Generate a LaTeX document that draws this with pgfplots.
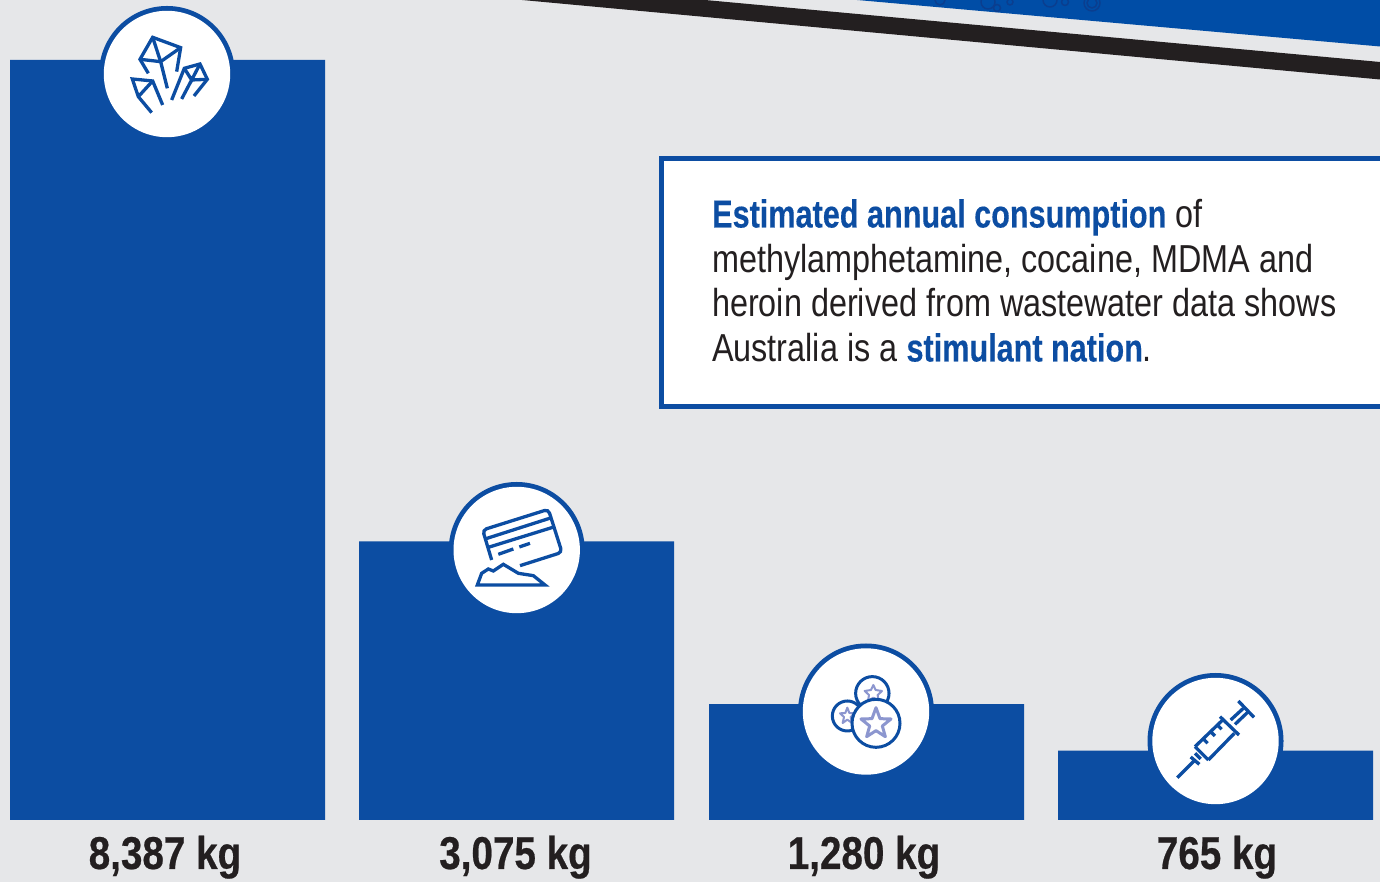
\documentclass[border=0pt]{standalone}
\usepackage{pgfplots}
\pgfplotsset{compat=1.18}
\usepackage{fontspec}
\setmainfont[FakeStretch=0.83,BoldFeatures={FakeStretch=0.785,FakeBold=0.25}]{Liberation Sans}
\newfontfamily\labfont[FakeStretch=0.84,BoldFeatures={FakeStretch=0.84,FakeBold=0.5}]{Liberation Sans}
\definecolor{bgc}{HTML}{E6E7E9}
\definecolor{barc}{HTML}{0C4DA2}
\definecolor{topb}{HTML}{004DA6}
\definecolor{ghost}{HTML}{0A3E8F}
\definecolor{ink}{HTML}{231F20}
\definecolor{starc}{HTML}{8C96CF}
\pgfplotstableread{
x kg
167.5 8387
516.5 3075
866.5 1280
1215.5 765
}\consumption
\newcommand{\tl}[3]{\node[anchor=base west,inner sep=0pt,font=\fontsize{39}{44}\selectfont,text=ink] at (#1,#2) {#3};}
\newcommand{\blue}[1]{\textcolor{barc}{\bfseries #1}}
\newcommand{\bubble}[2]{\fill[barc] (#1,#2) circle (68); \fill[white] (#1,#2) circle (63.2);}
\begin{document}
\begin{tikzpicture}[x=1pt,y=1pt]
\useasboundingbox (0,0) rectangle (1380,882);
\begin{scope}[x=1pt,y=-1pt,yshift=882pt]
\fill[bgc] (0,0) rectangle (1380,882);
\begin{scope}
\clip (0,0) rectangle (1380,882);
\fill[topb] (857,0) -- (1380,0) -- (1380,46.5) -- cycle;
\begin{scope}
\clip (857,0) -- (1380,0) -- (1380,46.5) -- cycle;
\draw[ghost,line width=1.5pt] (940,0) circle (5) (988,2) circle (7) (997,8) circle (3.5) (1010,2) circle (3) (1050,0) circle (7) (1065,2) circle (3.5) (1092,3) circle (8) (1092,3) circle (5);
\end{scope}
\fill[ink] (522,0) -- (705,0) -- (1380,62) -- (1380,79.5) -- cycle;
\filldraw[draw=barc,fill=white,line width=5.5pt] (661.5,158.5) rectangle (1390,406.5);
\end{scope}
\end{scope}
\begin{axis}[
  at={(0pt,62pt)},anchor=south west,
  width=1380pt,height=820pt,scale only axis,
  xmin=0,xmax=1380,ymin=0,ymax=9049,
  ybar,bar width=315pt,bar shift=0pt,
  axis line style={draw=none},tick style={draw=none},major tick length=0pt,
  ytick=\empty,
  xtick={165,515.5,864,1217},
  xticklabels={8{,}387 kg,3{,}075 kg,1{,}280 kg,765 kg},
  xticklabel style={anchor=base,yshift=-49pt,font=\fontsize{46}{50}\selectfont\labfont\bfseries,text=ink},
]
\addplot[fill=barc,draw=none] table[x=x,y=kg] {\consumption};
\end{axis}
\begin{scope}[x=1pt,y=-1pt,yshift=882pt]
\bubble{167}{74}
\bubble{516.7}{550}
\bubble{866}{711.5}
\bubble{1215.5}{741}
\tl{712}{227.5}{\blue{Estimated annual consumption} of}
\tl{712}{272.5}{methylamphetamine, cocaine, MDMA and}
\tl{712}{316.5}{heroin derived from wastewater data shows}
\tl{712}{361.5}{Australia is a \blue{stimulant nation}.}
\end{scope}
% icon 1
\begin{scope}[x=0.3333pt,y=-0.3333pt,shift={(90pt,882pt)},draw=barc,line width=3.3pt,line join=miter]
\draw (175,220)--(150,178)--(188,112)--(272,143)--(260,215);
\draw (150,178)--(212,185)--(272,143);
\draw (188,112)--(212,185)--(232,265);
\draw (245,300)--(283,205)--(330,192)--(352,238)--(312,288);
\draw (283,205)--(305,240)--(330,192);
\draw (275,297)--(305,240)--(352,238);
\draw (218,315)--(188,243)--(127,237)--(145,290)--(185,338);
\draw (145,290)--(188,243);
\end{scope}
% icon 2
\begin{scope}[x=0.3333pt,y=-0.3333pt,shift={(440pt,407pt)},draw=barc,line width=3.3pt,line join=miter]
\draw[rounded corners=4pt] (155,255)--(128,165)--(325,103)--(366,232)--(240,272);
\draw (135,192)--(335,128);
\draw (145,217)--(345,155);
\draw (175,238)--(220,222);
\draw (238,216)--(270,205);
\draw (112,330)--(125,295)--(145,282)--(160,288)--(190,268)--(235,295)--(280,302)--(315,330)--cycle;
\end{scope}
% icon 3
\begin{scope}[x=0.3333pt,y=-0.3333pt,shift={(790pt,247pt)},line width=3pt]
\filldraw[draw=barc,fill=white] (172,243) circle (15pt);
\draw[starc,line width=2pt,line join=round] (172,218) -- (178,234) -- (194,235) -- (182,246) -- (186,264) -- (172,254) -- (158,264) -- (162,246) -- (150,235) -- (166,234) -- cycle;
\filldraw[draw=barc,fill=white] (247,175) circle (16.7pt);
\draw[starc,line width=2pt,line join=round] (250,150) -- (257,165) -- (276,168) -- (263,180) -- (266,197) -- (250,188) -- (234,197) -- (237,180) -- (224,168) -- (243,165) -- cycle;
\filldraw[draw=barc,fill=white] (258,265) circle (24pt);
\draw[starc,line join=round] (258,218) -- (270,251) -- (303,252) -- (277,273) -- (286,305) -- (258,287) -- (230,305) -- (239,273) -- (213,252) -- (246,251) -- cycle;
\end{scope}
% icon 4
\begin{scope}[x=0.3333pt,y=-0.3333pt,shift={(1140pt,217pt)},draw=barc,line width=3.3pt]
\draw (112,338)--(165,285);
\draw (152,276)--(178,298);
\draw (165,265)--(182,282);
\draw (165,245)--(248,165);
\draw (205,285)--(283,205);
\draw (165,245)--(205,285);
\draw (240,155)--(297,210);
\draw (190,222)--(203,235);
\draw (212,200)--(225,213);
\draw (232,180)--(245,193);
\draw (272,165)--(310,130);
\draw (285,178)--(325,140);
\draw (295,108)--(342,157);
\end{scope}
\end{tikzpicture}
\end{document}
